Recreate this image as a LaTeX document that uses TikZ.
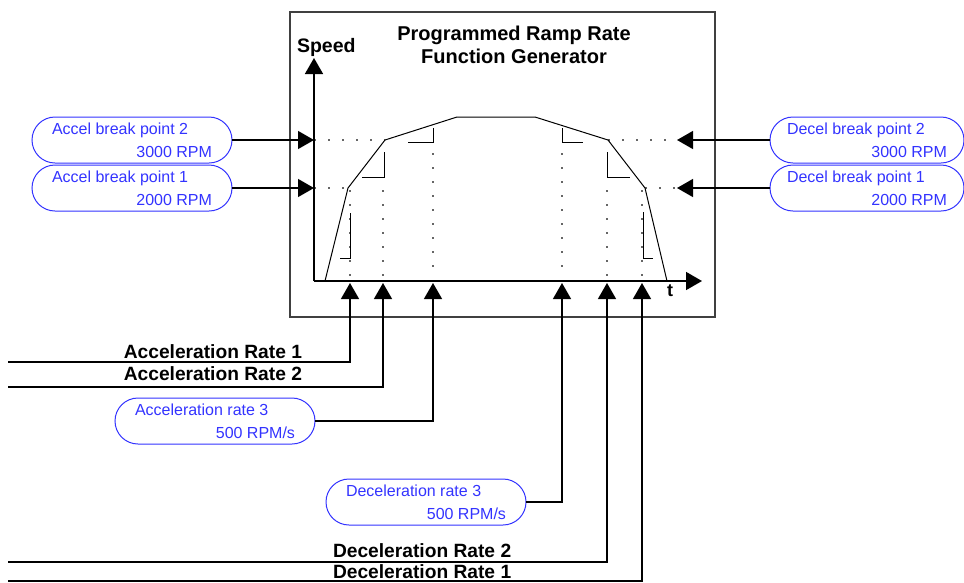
\documentclass[tikz,border=0pt]{standalone}
\usepackage{fontspec}
\setmainfont{Liberation Sans}
\usepackage{xcolor}
\usepackage{tikz}
\usetikzlibrary{shapes,arrows.meta,positioning,calc}

\definecolor{rpmblue}{RGB}{51,51,255}
\newcommand{\ovaltext}[2]{\makebox[160pt][l]{#1}\\\makebox[160pt][r]{#2}}

\begin{document}
\begin{tikzpicture}[x=1pt, y=-1pt,
    every node/.style={inner sep=0pt, outer sep=0pt},
    oval/.style={draw=rpmblue, text=rpmblue, rounded rectangle, minimum width=200pt, minimum height=46pt, align=center, line width=1pt, font=\fontsize{16}{23}\selectfont},
    rate/.style={font=\fontsize{19.2}{21}\selectfont\bfseries},
    feed/.style={-{Triangle[length=16pt,width=18pt]}, line width=1.3pt},
    guide/.style={draw=gray!80!black, line width=1.5pt, dash pattern=on 1.5pt off 12.5pt},
    ramp/.style={line width=1pt}]
    \useasboundingbox (0,0) rectangle (964,582);

    \draw[line width=1.5pt, black!75] (290,12) rectangle (715,317);
    \node[font=\fontsize{20}{23}\selectfont\bfseries, align=center] (title) at (514,45) {Programmed Ramp Rate\\Function Generator};
    \node[font=\fontsize{19.5}{23}\selectfont\bfseries, anchor=base west] (speed_lbl) at (297,52) {Speed};
    \node[font=\fontsize{18}{20}\selectfont\bfseries] (t_lbl) at (670,291) {t};

    \node[oval] (accel_bp2) at (132,140) {\ovaltext{Accel break point 2}{3000 RPM}};
    \node[oval] (accel_bp1) at (132,188) {\ovaltext{Accel break point 1}{2000 RPM}};
    \node[oval, minimum width=194pt] (decel_bp2) at (867,140) {\ovaltext{Decel break point 2}{3000 RPM}};
    \node[oval, minimum width=194pt] (decel_bp1) at (867,188) {\ovaltext{Decel break point 1}{2000 RPM}};
    \node[oval] (accel_r3) at (215,421) {\ovaltext{Acceleration rate 3}{500 RPM/s}};
    \node[oval] (decel_r3) at (426,502) {\ovaltext{Deceleration rate 3}{500 RPM/s}};

    \node[rate, anchor=base east] (accel_r1_lbl) at (302,358) {Acceleration Rate 1};
    \node[rate, anchor=base east] (accel_r2_lbl) at (302,380) {Acceleration Rate 2};
    \node[rate, anchor=base west] (decel_r2_lbl) at (333,557) {Deceleration Rate 2};
    \node[rate, anchor=base west] (decel_r1_lbl) at (333,578) {Deceleration Rate 1};

    \coordinate (origin) at (314,281);
    \coordinate (speed_top) at (314,58);
    \coordinate (time_end) at (702,281);
    \coordinate (bp2_in) at (314,140);
    \coordinate (bp1_in) at (314,188);
    \coordinate (bp2_out) at (677,140);
    \coordinate (bp1_out) at (677,188);
    \coordinate (tap1) at (350,283);
    \coordinate (tap2) at (383,283);
    \coordinate (tap3) at (433,283);
    \coordinate (tap4) at (562,283);
    \coordinate (tap5) at (607,283);
    \coordinate (tap6) at (642,283);
    \coordinate (ar1_in) at (8,362);
    \coordinate (ar2_in) at (8,387);
    \coordinate (dr2_in) at (8,562);
    \coordinate (dr1_in) at (8,581);

    \draw[guide] (bp2_in) -- (385,140);
    \draw[guide] (608,140) -- (bp2_out);
    \draw[guide] (bp1_in) -- (348,188);
    \draw[guide] (645,188) -- (bp1_out);
    \draw[guide] (350,190) -- (350,279);
    \draw[guide] (383,190) -- (383,279);
    \draw[guide] (433,153) -- (433,279);
    \draw[guide] (562,153) -- (562,279);
    \draw[guide] (607,190) -- (607,279);
    \draw[guide] (642,190) -- (642,279);

    \draw[ramp] (325,281) -- (348,188) -- (385,140) -- (457,117) -- (535,117) -- (608,140) -- (645,188) -- (667,281);
    \draw[ramp] (350,213) |- (340,258);
    \draw[ramp] (384,152) |- (362,177);
    \draw[ramp] (433,128) |- (408,142);
    \draw[ramp] (562,128) |- (583,142);
    \draw[ramp] (607,152) |- (630,177);
    \draw[ramp] (643,212) |- (653,258);

    \draw[feed, line width=1.6pt] (origin) -- (speed_top);
    \draw[feed, line width=1.6pt] (origin) -- (time_end);

    \draw[feed] (accel_bp2.east) -- (bp2_in);
    \draw[feed] (accel_bp1.east) -- (bp1_in);
    \draw[feed] (decel_bp2.west) -- (bp2_out);
    \draw[feed] (decel_bp1.west) -- (bp1_out);

    \draw[feed] (ar1_in) -| (tap1);
    \draw[feed] (ar2_in) -| (tap2);
    \draw[feed] (accel_r3.east) -| (tap3);
    \draw[feed] (decel_r3.east) -| (tap4);
    \draw[feed] (dr2_in) -| (tap5);
    \draw[feed] (dr1_in) -| (tap6);
\end{tikzpicture}
\end{document}
